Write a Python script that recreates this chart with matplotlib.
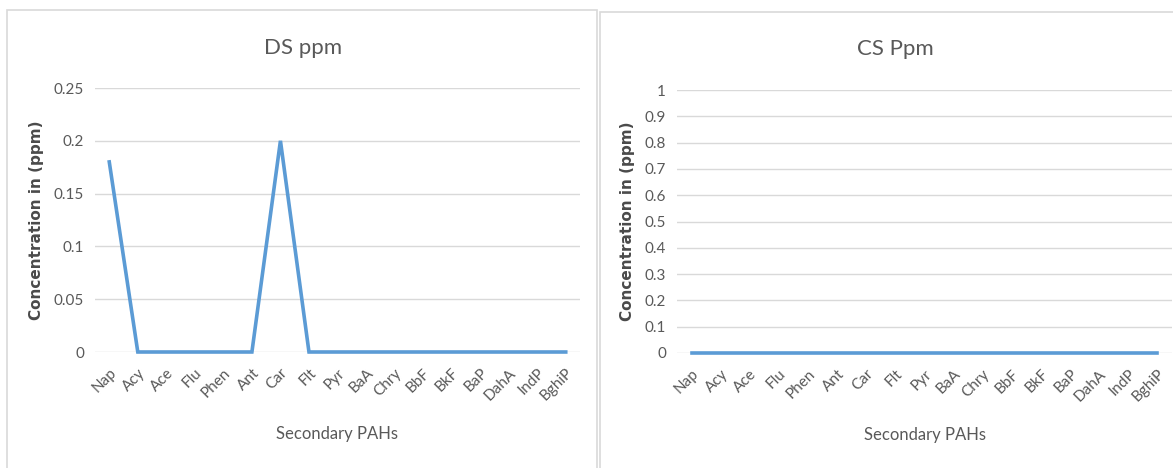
import matplotlib
matplotlib.use("Agg")
import matplotlib.pyplot as plt
from matplotlib.patches import Rectangle

categories = ["Nap", "Acy", "Ace", "Flu", "Phen", "Ant", "Car", "Flt", "Pyr", "BaA",
              "Chry", "BbF", "BkF", "BaP", "DahA", "IndP", "BghiP"]
ds_values = [0.18, 0, 0, 0, 0, 0, 0.2, 0, 0, 0, 0, 0, 0, 0, 0, 0, 0]
cs_values = [0] * 17
ds_ticks = [0, 0.05, 0.1, 0.15, 0.2, 0.25]
ds_ticklabels = ["0", "0.05", "0.1", "0.15", "0.2", "0.25"]
cs_ticks = [0, 0.1, 0.2, 0.3, 0.4, 0.5, 0.6, 0.7, 0.8, 0.9, 1.0]
cs_ticklabels = ["0", "0.1", "0.2", "0.3", "0.4", "0.5", "0.6", "0.7", "0.8", "0.9", "1"]

FONT = "Lato"
GRAY = "#595959"
LINE = "#5B9BD5"
GRID = "#D9D9D9"

W, H = 1173, 468
fig = plt.figure(figsize=(W / 100, H / 100), dpi=100)

def px_rect(x0, y0, x1, y1):
    return [x0 / W, 1 - y1 / H, (x1 - x0) / W, (y1 - y0) / H]

# panel borders
for (x0, y0, x1, y1) in [(7, 10, 597, 470), (600, 12, 1180, 470)]:
    fig.patches.append(Rectangle((x0 / W, 1 - y1 / H), (x1 - x0) / W, (y1 - y0) / H,
                                 transform=fig.transFigure, fill=False,
                                 edgecolor="#D9D9D9", linewidth=1.2))

def make(ax, vals, ticks, tlabels, ymax, title, title_xy):
    x = list(range(len(categories)))
    ax.plot(x, vals, color=LINE, linewidth=2.6, solid_joinstyle="miter", zorder=3,
            clip_on=False)
    ax.set_xlim(-0.5, len(categories) - 0.5)
    ax.set_ylim(0, ymax)
    ax.set_yticks(ticks)
    ax.set_yticklabels(tlabels, fontsize=11, color=GRAY, family=FONT)
    ax.set_xticks(x)
    ax.set_xticklabels(categories, rotation=45, ha="right", va="top",
                       rotation_mode="anchor", fontsize=11, color=GRAY, family=FONT)
    ax.tick_params(length=0, pad=8)
    ax.tick_params(axis="x", pad=10)
    for s in ax.spines.values():
        s.set_visible(False)
    ax.grid(axis="y", color=GRID, linewidth=1.0, zorder=0)
    ax.set_axisbelow(True)
    ax.set_ylabel("Concentration in (ppm)", fontsize=11, color="#4a4a4a",
                  family="DejaVu Sans", fontweight="semibold", labelpad=7)
    ax.set_xlabel("Secondary PAHs", fontsize=12, color=GRAY, family=FONT, labelpad=16)
    fig.text(title_xy[0] / W, 1 - title_xy[1] / H, title, fontsize=16, color=GRAY,
             family=FONT, ha="center", va="center")

ax1 = fig.add_axes(px_rect(95, 88, 580, 352))
make(ax1, ds_values, ds_ticks, ds_ticklabels, 0.25, "DS ppm", (303, 48))

ax2 = fig.add_axes(px_rect(677, 90, 1172, 353))
make(ax2, cs_values, cs_ticks, cs_ticklabels, 1.0, "CS Ppm", (895, 49))

fig.savefig("out.png", dpi=100, facecolor="white")
